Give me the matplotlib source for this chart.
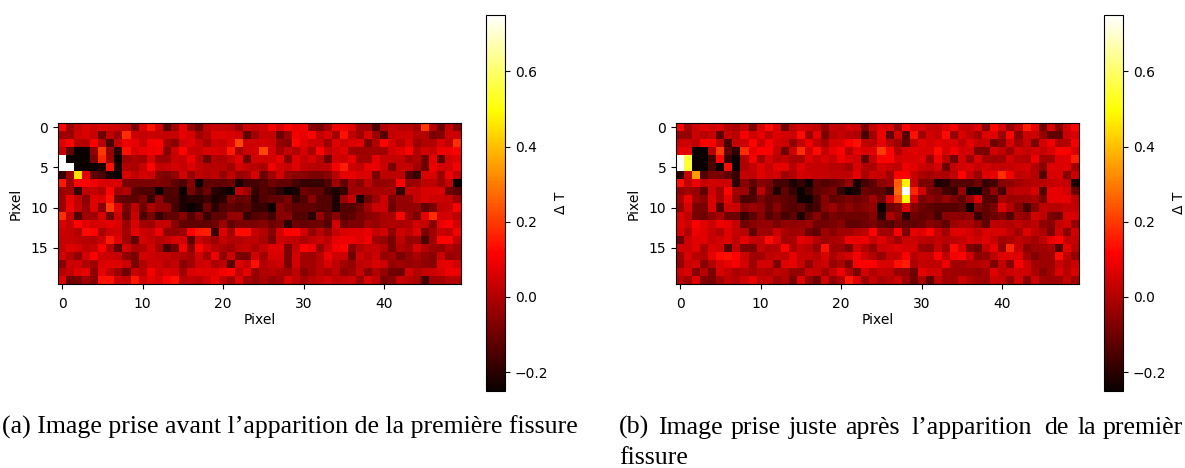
import numpy as np
import matplotlib
matplotlib.use("Agg")
import matplotlib.pyplot as plt

# Delta T per pixel, in hundredths
before_dt = [
    [12,-3,3,6,4,6,5,4,3,-8,6,14,5,-13,-2,8,-4,-10,2,3,3,2,-4,4,3,4,10,6,11,8,10,-6,-8,-2,9,9,7,-2,-3,-15,0,3,1,1,-2,20,1,-10,3,-6],
    [-2,-3,4,6,3,-10,2,-3,18,4,3,4,3,3,3,8,6,-2,1,7,7,6,5,-12,-2,3,3,-10,-3,10,8,12,2,6,-2,14,2,-2,6,-3,-14,3,4,4,1,0,-8,-6,4,4],
    [7,12,1,0,11,0,-16,3,9,8,3,10,11,-2,-6,5,7,3,-2,4,3,7,22,4,4,5,4,-4,-6,12,7,4,4,-3,7,4,6,7,-8,0,12,5,1,6,-3,0,0,6,2,18],
    [3,-12,-25,-25,-5,20,-4,-20,14,6,8,9,10,-6,4,12,3,3,6,6,5,15,-1,4,5,22,5,-2,3,0,5,-1,12,3,5,7,-3,-3,-3,-2,-2,5,7,11,0,5,3,9,9,11],
    [75,-25,-25,-25,-8,17,-3,-25,-3,-1,-2,6,-3,-3,4,3,9,1,-10,0,-1,3,8,-10,5,5,5,8,-6,7,3,6,1,-10,5,4,8,-2,-2,8,3,3,3,-2,0,-10,8,-12,5,7],
    [75,75,-25,-25,-25,-22,14,-22,0,-1,3,12,2,3,5,3,6,3,1,1,1,-2,5,2,1,-1,9,5,3,7,2,1,1,2,10,16,4,3,8,8,4,-8,3,3,-2,-10,9,5,5,10],
    [-18,-3,45,8,-12,-15,-22,-25,6,2,5,4,-6,-8,-5,5,-4,2,0,2,-4,2,-4,-2,6,-10,-2,5,-4,-6,-6,-8,-8,-6,1,8,8,6,6,-8,2,2,2,-14,-18,6,6,-3,9,3],
    [15,-3,12,12,9,6,6,6,-8,-8,-8,-8,-7,-8,-12,-15,-6,-25,-12,-12,-12,-10,-22,-16,-16,-14,-10,-12,-12,-16,-18,-18,-18,-14,-2,-12,-2,-6,2,-4,-4,-3,12,-4,-2,2,2,-3,3,-25],
    [-3,-2,-18,2,3,0,12,-2,0,-13,-15,-15,-25,-15,-14,-25,-8,-16,-10,-20,-22,-25,2,-2,-18,-14,-16,-20,-25,-22,-10,-12,-12,-18,-22,-18,-2,-2,-2,-1,-1,-1,-18,3,3,6,6,6,-10,-12],
    [-2,8,2,-6,7,6,14,-10,-12,-12,-8,-18,-5,-15,-15,-22,-20,-20,-17,-22,-20,-8,-12,-10,-20,-14,-12,-12,-8,-18,-14,-6,-14,-14,-22,-3,3,-22,-10,-3,4,-8,-4,-4,3,6,4,4,3,-2],
    [-3,9,3,-4,7,-6,20,7,-8,2,-10,-1,-5,-5,-16,-22,-25,-22,-10,-20,-14,-12,-14,-12,-18,-18,-24,-6,-10,-12,-12,-12,-14,-14,-22,-14,-14,-10,-2,4,4,-10,-4,-4,-4,-12,-8,2,3,11],
    [18,3,-14,-2,-2,6,-10,4,-10,4,-15,-8,-18,-12,-12,-6,-14,-7,-18,-12,-12,-4,-4,-18,-14,-12,-16,-6,-6,-14,-14,-20,-4,-12,-6,-14,-12,-8,-6,-4,-1,-1,12,-3,-8,8,18,5,5,2],
    [6,3,12,7,5,6,8,6,-3,6,-2,-3,3,3,-6,-12,-12,-12,-12,-10,-3,-12,-8,-8,-8,-6,-10,-8,-20,-10,-12,-10,-10,-14,5,-10,-8,-8,-2,-4,-1,0,-1,0,5,3,-6,8,11,5],
    [4,3,0,13,12,-1,4,5,-2,8,4,3,9,-5,-5,-3,12,15,16,-18,7,-2,13,13,3,0,-6,5,12,12,5,-4,1,-4,3,6,7,7,8,3,5,-5,4,2,7,-8,-2,4,2,10],
    [3,3,2,1,0,4,15,7,-2,-12,5,3,0,3,6,5,-12,4,0,-3,3,0,0,2,2,-1,-8,4,3,2,-1,2,4,2,8,9,9,7,9,-2,-4,-8,2,-4,-3,-15,-2,12,12,3],
    [3,7,5,2,3,11,0,-12,5,-1,0,5,-2,-16,-10,10,-6,12,5,1,-1,-3,2,3,-1,3,7,7,-8,3,12,9,-4,4,10,12,-6,0,3,3,0,-8,0,-2,6,0,-3,-4,0,-2],
    [5,0,-5,5,11,4,4,3,-5,-8,5,4,3,3,1,0,-2,5,-2,9,-5,4,-8,-8,5,-2,6,6,-8,5,-2,-3,1,9,4,4,-10,4,1,4,-4,-2,-8,-4,-1,-4,-6,4,-4,-2],
    [-6,4,4,0,-2,6,7,7,4,-8,0,4,4,1,3,-6,-2,4,5,-1,2,-13,7,3,14,0,3,4,-8,5,-2,-2,1,6,2,-2,-4,2,3,6,4,-4,-2,-4,-3,-5,-6,8,8,5],
    [1,3,7,8,-5,8,2,-3,-10,4,1,10,4,6,5,-2,6,7,7,7,10,12,2,8,-4,0,1,-1,-2,2,-6,-2,1,-1,2,-5,-3,3,-6,0,-4,-9,-10,5,0,3,4,6,9,9],
    [7,-10,-8,-2,-6,14,14,4,3,15,4,8,6,11,14,1,2,1,4,9,2,-2,7,-2,-4,-1,-4,-2,6,2,-2,1,3,5,2,3,4,-3,6,2,-8,-6,3,1,-1,-16,-2,-2,1,1],
]
after_dt = [
    [12,-2,4,7,5,6,1,-1,3,-8,6,13,6,-10,2,5,4,2,-5,3,2,5,4,-8,3,7,6,-4,12,6,6,3,3,7,10,3,3,7,-6,12,6,-4,2,16,8,-10,6,-6,5,12],
    [-4,-4,4,1,3,-12,3,1,10,4,8,2,7,5,4,13,-3,8,-8,1,3,1,0,-16,-2,9,-12,5,-14,14,-2,5,3,13,-4,6,2,-2,7,7,-3,12,-6,4,4,-4,-12,-12,4,6],
    [4,4,2,11,11,2,-16,3,4,12,3,10,5,4,-5,3,9,2,-2,5,6,11,14,2,1,8,1,-3,-12,2,7,5,7,6,6,2,7,3,3,-10,-6,5,-2,3,-8,5,9,0,0,10],
    [8,8,-25,-25,0,20,-12,-20,18,8,11,11,3,-10,4,18,5,13,3,8,11,1,8,6,7,20,12,0,6,7,6,6,13,5,10,5,5,-8,-8,5,2,-3,5,3,5,3,6,11,11,6],
    [75,55,-25,-25,-16,12,-18,-25,0,10,-2,6,1,3,-1,-1,7,3,6,3,9,6,5,-12,3,12,12,5,6,6,7,-4,10,1,-10,5,-4,6,-2,-2,-2,5,1,0,9,-2,-2,7,7,16],
    [75,55,-25,-25,-15,-25,13,-25,0,3,7,3,8,8,1,7,3,3,3,1,1,-2,6,0,-1,5,3,2,9,7,4,2,5,-10,3,5,6,3,5,3,3,3,4,5,0,-6,7,6,7,-2],
    [-20,3,35,-14,-8,-8,-12,-18,3,2,7,4,5,-3,0,5,4,3,3,2,2,2,8,-1,4,3,-2,11,11,3,-1,-2,0,-1,2,12,3,-3,7,8,18,10,2,3,1,-14,6,6,-6,4],
    [14,2,9,3,5,4,4,-20,-6,-12,-6,-8,-16,-16,-22,-18,-24,-12,-14,-12,-10,-4,-22,-16,-12,-5,-3,25,48,3,-8,-8,-22,-20,-14,-14,-14,-10,-18,-16,-6,-5,-2,0,1,1,3,4,3,-22],
    [-4,-2,-4,-12,4,-2,12,-2,-3,-16,2,-10,-22,-12,-18,-25,-18,-12,-10,-8,-18,-25,-22,-10,-12,-12,-18,27,75,17,5,-8,-10,-16,-18,-4,-24,-24,-14,-5,-16,0,2,2,6,-14,8,8,5,-10],
    [-1,9,-3,-6,6,-2,8,-4,-15,-14,-8,-12,-10,-12,-14,-24,-24,-15,-6,-12,-10,-8,-10,-8,-2,-10,6,22,50,6,-8,-5,-8,-4,-8,-12,-4,6,-14,-14,-1,-3,-3,-2,-1,-8,8,8,8,2],
    [-4,6,-8,-8,6,-14,4,4,-6,-3,-5,-12,-6,-12,-14,-12,-18,-16,-6,-3,-8,-5,-8,-6,-4,-25,-10,-8,6,-6,-10,-12,-14,-14,-14,-12,-25,-8,-12,-8,7,0,-6,-16,-6,2,1,1,3,3],
    [6,2,-8,-10,-5,-1,-10,-10,-18,-12,-6,-14,-10,-16,-12,-22,-12,-6,-12,-8,-10,-10,-10,-10,-6,-20,-1,-6,-20,-10,-12,-10,-16,-6,-5,-6,-4,-18,-12,-10,-8,-14,-3,-5,5,2,-8,-10,6,6],
    [7,4,11,7,4,9,8,3,-10,-6,-4,-4,-8,-4,-5,-4,-3,-9,-9,-8,-6,-12,-12,-10,-8,-12,-14,-10,-12,-12,-10,-6,-8,-12,-3,-1,-1,-5,-12,2,1,0,2,0,2,-5,-6,3,5,-4],
    [6,0,9,7,3,0,7,3,1,-12,-2,-3,4,-1,-3,-2,-10,-12,-2,-6,-2,-2,0,2,12,-2,-2,11,-8,8,7,12,3,-2,7,7,5,2,6,6,6,2,-2,7,2,-1,-8,5,-6,5],
    [-10,4,7,7,3,5,7,2,8,3,3,13,7,-2,-1,8,6,0,-3,-1,0,9,8,9,3,7,2,-2,4,4,2,1,3,1,2,3,6,4,7,3,-2,-1,2,0,-2,2,8,12,3,3],
    [5,4,7,-1,6,5,-14,3,-8,-8,3,0,1,12,-1,3,1,-4,14,-3,-3,-8,5,0,-5,4,5,7,5,5,-4,-4,3,-3,13,5,-8,-10,3,8,-5,17,3,-6,-3,-2,-1,-14,8,1],
    [-3,6,1,0,8,13,14,12,4,-2,-2,2,3,2,8,3,3,1,6,-1,3,5,10,4,0,-4,3,3,11,1,4,3,11,2,10,12,4,-5,-4,2,7,7,7,-2,-7,-3,-3,13,2,-4],
    [-4,4,5,-6,0,6,8,10,5,-3,5,5,-8,7,8,3,-5,3,4,-4,-1,-8,11,11,11,6,6,14,16,-1,3,2,2,9,-2,-2,0,0,2,-8,3,-6,11,4,-2,-3,-3,4,0,4],
    [4,6,-6,1,-8,6,3,-1,0,-2,1,-1,2,1,-4,-4,4,3,-2,3,9,0,-8,5,0,3,2,-4,-4,-10,8,5,5,-2,-2,-3,-3,-4,-2,7,2,4,5,4,-1,-6,-2,6,1,6],
    [1,-2,7,-7,-8,-2,2,0,4,8,2,3,-2,0,-8,7,-4,-10,5,-5,0,15,7,-3,3,-1,1,4,-3,-10,-1,-12,2,-2,-2,4,0,-2,-3,4,3,-4,5,-6,4,-2,-3,-2,3,-2],
]

tick_x = [0, 10, 20, 30, 40]
tick_y = [0, 5, 10, 15]
cbar_ticks = [-0.2, 0.0, 0.2, 0.4, 0.6]
caption_a = "(a) Image prise avant l\u2019apparition de la premi\u00e8re fissure"
# the second caption is justified in the source, so each word keeps its own x
caption_b_words = ["(b)", "Image", "prise", "juste", "apr\u00e8s", "l\u2019apparition", "de", "la", "premi\u00e8r"]
caption_b_x = [619, 658, 731, 789, 845, 912, 1044, 1078, 1103]
caption_b_end = "fissure"

W, H = 1185, 468
FONT = 10
SERIF = "Liberation Serif"
CAPTION = 18.6


def px_axes(fig, x0, y0, x1, y1):
    # pixel box measured from the top left of the picture
    return fig.add_axes([x0 / W, 1 - y1 / H, (x1 - x0) / W, (y1 - y0) / H])


def draw_panel(fig, values, left):
    ax = px_axes(fig, left, 123, left + 403, 284)
    im = ax.imshow(np.array(values) / 100, cmap="hot", vmin=-0.25, vmax=0.75, aspect="auto")
    ax.set_xticks(tick_x)
    ax.set_yticks(tick_y)
    ax.tick_params(labelsize=FONT)
    ax.tick_params(axis="x", pad=6)
    ax.set_xlabel("Pixel", fontsize=FONT, labelpad=1.5)
    ax.set_ylabel("Pixel", fontsize=FONT, labelpad=5.5)

    cax = px_axes(fig, left + 428, 15, left + 447, 391)
    cb = fig.colorbar(im, cax=cax)
    cb.set_ticks(cbar_ticks)
    cb.ax.tick_params(labelsize=FONT)
    cb.set_label("\u0394 T", fontsize=FONT, labelpad=4.5)


def caption(fig, x, y, text):
    fig.text(x / W, 1 - y / H, text, family=SERIF, fontsize=CAPTION, va="baseline")


def main():
    fig = plt.figure(figsize=(W / 100, H / 100), dpi=100)
    draw_panel(fig, before_dt, 58)
    draw_panel(fig, after_dt, 676)

    caption(fig, 2, 434, caption_a)
    for word, x in zip(caption_b_words, caption_b_x):
        caption(fig, x, 434, word)
    caption(fig, 619, 464, caption_b_end)

    fig.savefig("out.png", dpi=100)


if __name__ == "__main__":
    main()
